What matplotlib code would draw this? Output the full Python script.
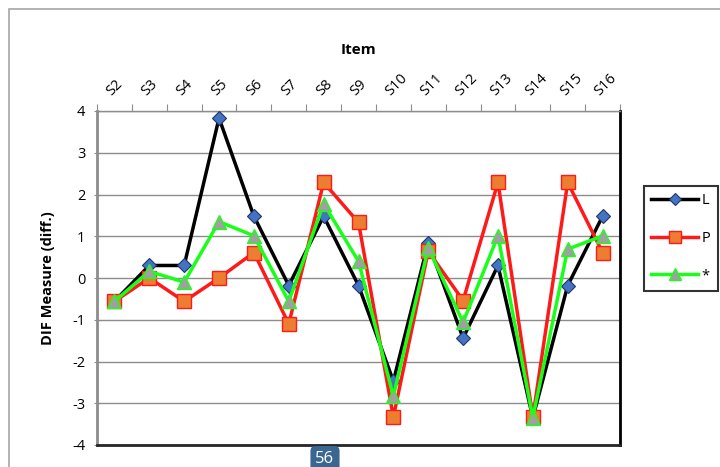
import numpy as np
import matplotlib.pyplot as plt
from matplotlib.patches import Rectangle

plt.rcParams['font.family'] = ['Open Sans', 'DejaVu Sans']
plt.rcParams['axes.unicode_minus'] = False

items = ['S2', 'S3', 'S4', 'S5', 'S6', 'S7', 'S8', 'S9', 'S10',
         'S11', 'S12', 'S13', 'S14', 'S15', 'S16']
L_vals = [-0.56, 0.30, 0.30, 3.83, 1.48, -0.18, 1.48, -0.18, -2.47,
          0.84, -1.44, 0.30, -3.35, -0.18, 1.48]
P_vals = [-0.56, 0.00, -0.56, 0.00, 0.61, -1.10, 2.29, 1.33, -3.33,
          0.64, -0.54, 2.29, -3.33, 2.29, 0.61]
star_vals = [-0.56, 0.16, -0.10, 1.35, 1.01, -0.56, 1.78, 0.40, -2.83,
             0.72, -1.06, 1.01, -3.35, 0.69, 1.01]

fig = plt.figure(figsize=(7.2, 4.67), dpi=100)
ax = fig.add_axes([97/720, 1-445/467, (620-97)/720, (445-111)/467])

x = np.arange(len(items))
ax.plot(x, L_vals, color='black', lw=2.5, marker='D', ms=7.5,
        mfc='#4472C4', mec='#1f3864', mew=0.8, label='L', zorder=3)
ax.plot(x, P_vals, color='#ff1a1a', lw=2.5, marker='s', ms=10,
        mfc='#ED7D31', mec='#ff1a1a', mew=1.0, label='P', zorder=4)
ax.plot(x, star_vals, color='#1aff1a', lw=2.5, marker='^', ms=10,
        mfc='#A0A0A0', mec='#1aff1a', mew=1.0, label='*', zorder=5)

ax.set_xlim(-0.5, len(items) - 0.5)
ax.set_ylim(-4, 4)
ax.set_yticks(range(-4, 5))
ax.yaxis.grid(True, color='#8c8c8c', lw=1)
ax.set_axisbelow(True)

ax.xaxis.tick_top()
ax.xaxis.set_label_position('top')
ax.set_xticks(np.arange(-0.5, len(items)), minor=False)
ax.set_xticklabels([])
ax.set_xticks(x, minor=True)
ax.set_xticklabels(items, minor=True, rotation=45, ha='left', va='bottom',
                   rotation_mode='anchor', fontsize=10.5)
ax.tick_params(axis='x', which='minor', length=0, pad=9)
ax.tick_params(axis='x', which='major', length=5, color='#8c8c8c', direction='out')
ax.tick_params(axis='y', length=5, color='#8c8c8c', direction='inout', labelsize=10.5, pad=6)
ax.set_xlabel('Item', fontsize=11, fontweight='bold', labelpad=12)
ax.set_ylabel('DIF Measure (diff.)', fontsize=10.5, fontweight='bold', labelpad=12)

ax.spines['left'].set_color('#8c8c8c')
ax.spines['left'].set_linewidth(2)
ax.spines['top'].set_color('#8c8c8c')
ax.spines['top'].set_linewidth(1)
ax.spines['right'].set_color('black')
ax.spines['right'].set_linewidth(2)
ax.spines['bottom'].set_color('#262626')
ax.spines['bottom'].set_linewidth(2)

leg = ax.legend(loc='upper left', bbox_to_anchor=(644/720, 1-186/467),
                bbox_transform=fig.transFigure, frameon=True, fancybox=False,
                fontsize=10.5, handlelength=3.2, borderpad=0.5, labelspacing=1.55,
                handletextpad=0.25, borderaxespad=0, markerscale=0.8)
leg.get_frame().set_edgecolor('black')
leg.get_frame().set_linewidth(1.5)

# outer chart border
fig.patches.append(Rectangle((9/720, -0.1), 1.2, 1 - 9/467 + 0.1, transform=fig.transFigure,
                             fill=False, edgecolor='#a6a6a6', lw=1.2, zorder=0))

# page number badge
fig.text(325/720, 0, '56', ha='center', va='bottom', color='white', fontsize=12,
         bbox=dict(boxstyle='round,pad=0.3', fc='#3a6791', ec='none'), zorder=10)

fig.savefig('out.png', dpi=100)
